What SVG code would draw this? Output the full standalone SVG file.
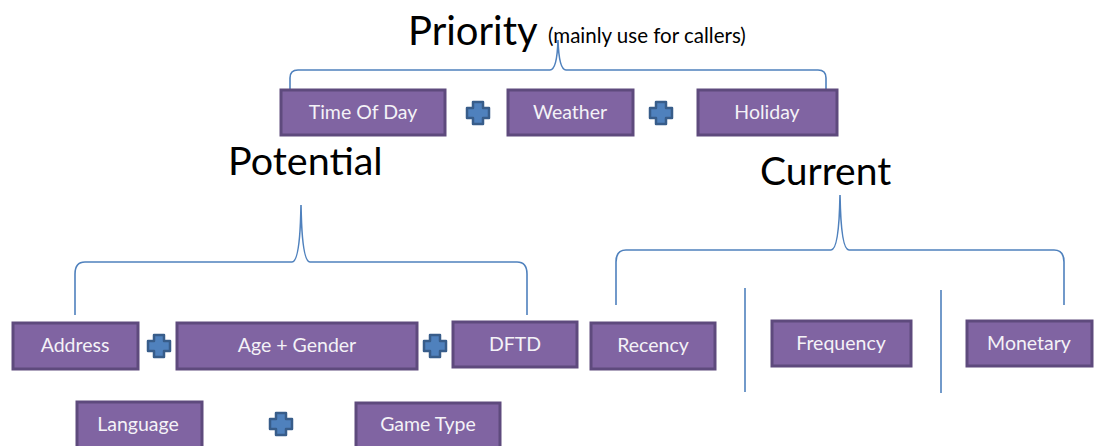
<svg xmlns="http://www.w3.org/2000/svg" width="1095" height="446" viewBox="0 0 1095 446">
  <style>
    .box rect { fill: #8064A2; stroke: #5E4A7D; stroke-width: 3; }
    .box text { font-family: Lato, "Open Sans", sans-serif; font-size: 19.5px; fill: #F4F2F7; text-anchor: middle; }
    .title { font-family: Lato, "Open Sans", sans-serif; fill: #000; }
    .brace { fill: none; stroke: #4F81BD; stroke-width: 1.6; }
    .plus { fill: #4F81BD; stroke: #385D8A; stroke-width: 2.5; stroke-linejoin: round; }
  </style>
  <defs>
    <path id="cross" class="plus" d="M-5,-11 H5 V-5 H11 V5 H5 V11 H-5 V5 H-11 V-5 H-5 Z"/>
  </defs>
  <rect width="1095" height="446" fill="#FFFFFF"/>

  <!-- headings -->
  <g id="priority-title">
    <text class="title" x="408" y="45" font-size="40">Priority</text>
    <text class="title" x="548" y="43" font-size="20.5">(mainly use for callers)</text>
  </g>
  <g id="potential-title">
    <text class="title" x="228" y="175" font-size="39.5">Potential</text>
  </g>
  <g id="current-title">
    <text class="title" x="760" y="185" font-size="39">Current</text>
  </g>

  <!-- braces and separators -->
  <g id="connectors">
    <path class="brace" d="M290,91 L290,78 Q290,70 298,70 L550,70 Q557,70 558,40 Q559,70 566,70 L818,70 Q826,70 826,78 L826,91"/>
    <path class="brace" d="M75,315 L75,274 Q75,262 85,262 L292,262 Q300,262 301,205 Q302,262 310,262 L517,262 Q527,262 527,274 L527,315"/>
    <path class="brace" d="M616,305 L616,262 Q616,250 626,250 L831,250 Q839,250 840,195 Q841,250 849,250 L1054,250 Q1064,250 1064,262 L1064,305"/>
    <line class="brace" x1="745" y1="288" x2="745" y2="392"/>
    <line class="brace" x1="941" y1="290" x2="941" y2="393"/>
  </g>

  <!-- priority row -->
  <g id="time-of-day" class="box">
    <rect x="281" y="90" width="164" height="45"/>
    <text x="363" y="119">Time Of Day</text>
  </g>
  <g id="plus-1"><use href="#cross" x="478" y="113"/></g>
  <g id="weather" class="box">
    <rect x="508" y="90" width="125" height="45"/>
    <text x="570" y="119">Weather</text>
  </g>
  <g id="plus-2"><use href="#cross" x="661" y="113"/></g>
  <g id="holiday" class="box">
    <rect x="698" y="90" width="139" height="45"/>
    <text x="767" y="119">Holiday</text>
  </g>

  <!-- potential row -->
  <g id="address" class="box">
    <rect x="13" y="323" width="125" height="46"/>
    <text x="75" y="352">Address</text>
  </g>
  <g id="plus-3"><use href="#cross" x="159" y="346"/></g>
  <g id="age-gender" class="box">
    <rect x="177" y="323" width="240" height="46"/>
    <text x="297" y="352">Age + Gender</text>
  </g>
  <g id="plus-4"><use href="#cross" x="435" y="346"/></g>
  <g id="dftd" class="box">
    <rect x="453" y="322" width="124" height="45"/>
    <text x="515" y="351">DFTD</text>
  </g>
  <g id="language" class="box">
    <rect x="77" y="402" width="125" height="48"/>
    <text x="138" y="431">Language</text>
  </g>
  <g id="plus-5"><use href="#cross" x="281" y="424"/></g>
  <g id="game-type" class="box">
    <rect x="356" y="403" width="144" height="48"/>
    <text x="428" y="431">Game Type</text>
  </g>

  <!-- current row -->
  <g id="recency" class="box">
    <rect x="591" y="323" width="124" height="46"/>
    <text x="653" y="352">Recency</text>
  </g>
  <g id="frequency" class="box">
    <rect x="772" y="321" width="139" height="45"/>
    <text x="841" y="350">Frequency</text>
  </g>
  <g id="monetary" class="box">
    <rect x="967" y="321" width="125" height="45"/>
    <text x="1029" y="350">Monetary</text>
  </g>
</svg>
